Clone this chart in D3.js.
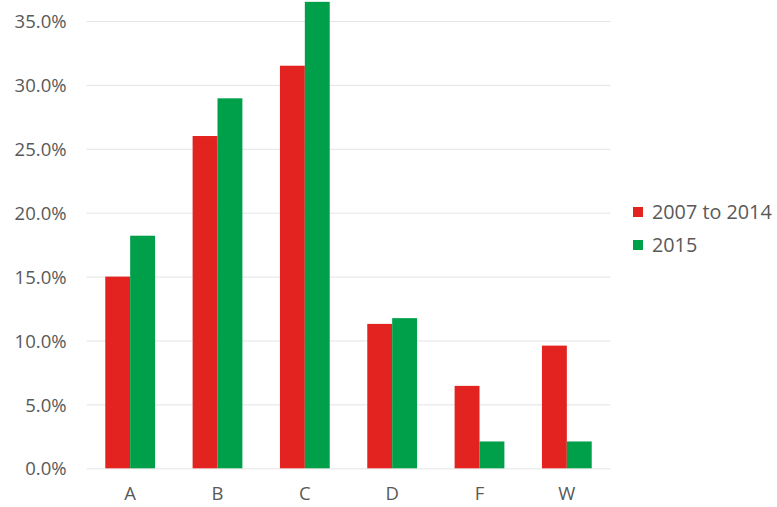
<!DOCTYPE html>
<html><head><meta charset="utf-8">
<script src="https://cdn.jsdelivr.net/npm/d3@7"></script>
<style>body{margin:0;background:#fff}svg{display:block}text{font-family:"Open Sans",sans-serif;fill:#595959}</style>
</head><body><svg id="c" width="777" height="507"></svg>
<script>
const categories = ["A","B","C","D","F","W"];
const seriesNames = ["2007 to 2014","2015"];
const values2007to2014 = [15.0, 26.0, 31.5, 11.3, 6.45, 9.6];
const values2015 = [18.2, 28.95, 36.5, 11.75, 2.1, 2.1];
const yTicks = [0,5,10,15,20,25,30,35];
const colors = ["#e2231f","#00a04a"];

const svg = d3.select("#c");
const x = d3.scaleBand().domain(categories).range([86.5, 610.5]).paddingInner(0.43).paddingOuter(0.215);
const xs = d3.scaleBand().domain(seriesNames).range([0, x.bandwidth()]);
const y = d3.scaleLinear().domain([0, 35]).range([468.3, 21]);

const gy = svg.append("g").attr("transform","translate(86.5,0)")
  .call(d3.axisLeft(y).tickValues(yTicks).tickSize(-524).tickFormat(d=>d3.format(".1f")(d)+"%"));
gy.select(".domain").remove();
gy.selectAll("line").attr("stroke","#e4e4e4").attr("stroke-width",1);
gy.selectAll("text").attr("x",-20).attr("dy","0.36em").style("font-size","18.5px").attr("fill","#595959");

const data = categories.map((c,i)=>({c, v:[values2007to2014[i], values2015[i]]}));
const g = svg.append("g");
g.selectAll("g.cat").data(data).join("g").attr("class","cat")
  .attr("transform",d=>`translate(${x(d.c)},0)`)
  .selectAll("rect").data(d=>d.v.map((v,j)=>({s:seriesNames[j],v,j}))).join("rect")
  .attr("x",d=>xs(d.s)).attr("width",xs.bandwidth())
  .attr("y",d=>y(d.v)).attr("height",d=>y(0)-y(d.v))
  .attr("fill",d=>colors[d.j]);

const gx = svg.append("g").attr("transform","translate(0,468.3)")
  .call(d3.axisBottom(x).tickSize(0).tickPadding(19));
gx.select(".domain").remove();
gx.selectAll("text").style("font-size","18.5px").attr("fill","#595959");

const leg = svg.append("g").attr("transform","translate(633,212)");
seriesNames.forEach((s,i)=>{
  const r = leg.append("g").attr("transform",`translate(0,${i*33})`);
  r.append("rect").attr("x",0).attr("y",-5).attr("width",10).attr("height",10).attr("fill",colors[i]);
  r.append("text").attr("x",19).attr("dy","0.36em").style("font-size","19.8px").text(s);
});
</script></body></html>
